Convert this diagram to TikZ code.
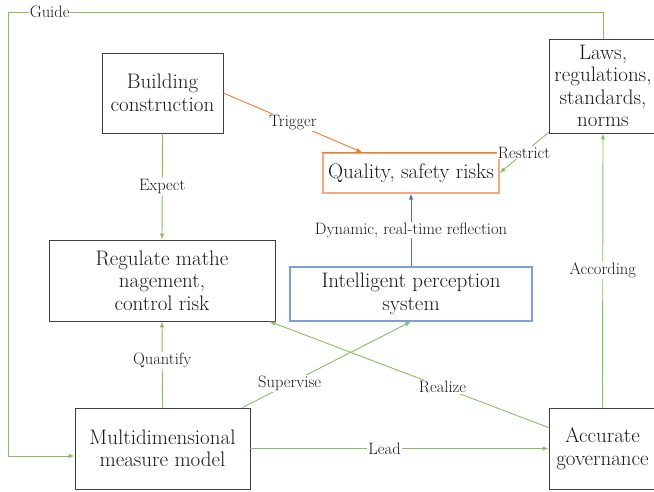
\documentclass[tikz,border=0pt]{standalone}
\usetikzlibrary{arrows.meta,calc}
\definecolor{gline}{RGB}{134,190,98}
\definecolor{oline}{RGB}{237,125,49}
\definecolor{olight}{RGB}{244,170,120}
\definecolor{bline}{RGB}{68,114,196}
\definecolor{blight}{RGB}{125,158,218}
\definecolor{boxgray}{RGB}{64,64,64}
\definecolor{txt}{RGB}{25,25,25}
\begin{document}
\begin{tikzpicture}[x=1pt,y=-1pt,
  box/.style={draw=boxgray,line width=0.9pt,inner sep=0pt,align=center,
    text=txt,font=\fontsize{21}{22.5}\selectfont},
  cbox/.style={box,line width=1.2pt},
  lbl/.style={fill=white,inner sep=1pt,text=txt,font=\fontsize{16.5}{18}\selectfont},
  conn/.style={line width=0.9pt,-{Latex[length=6pt,width=4.5pt]}},
  gconn/.style={conn,draw=gline,color=gline}]
\useasboundingbox (0,0) rectangle (654,491);

% boxes
\node[box,minimum width=121pt,minimum height=80pt] (build) at (162.5,93)
  {Building\\construction};
\node[box,minimum width=108pt,minimum height=94pt] (laws) at (603,86)
  {Laws,\\regulations,\\standards,\\norms};
\node[cbox,draw=olight,minimum width=176pt,minimum height=40pt] (qual) at (411,173)
  {Quality, safety risks};
\draw[oline,line width=1.1pt] (qual.north west) -- (qual.north east);
\node[box,minimum width=226pt,minimum height=81pt] (reg) at (162,280.5)
  {Regulate mathe\\nagement,\\control risk};
\node[cbox,draw=blight,minimum width=242pt,minimum height=54pt] (intel) at (411,294)
  {Intelligent perception\\system};
\node[box,minimum width=175pt,minimum height=81pt] (multi) at (162.5,448.5)
  {Multidimensional\\measure model};
\node[box,minimum width=107pt,minimum height=81pt] (acc) at (602.5,448.5)
  {Accurate\\governance};

% guide loop around the left side
\coordinate (g1) at (laws.north |- 0,12);
\coordinate (g2) at (8,12);
\coordinate (g3) at (8,456);
\draw[gconn] (laws.north) -- (g1) -- node[lbl,pos=0.93]{Guide} (g2) -- (g3)
  -- (multi.west |- g3);

% connectors
\draw[gconn] (build.south) -- node[lbl]{Expect} (reg.north);
\draw[conn,draw=oline,color=oline] (build.east)
  -- node[lbl,pos=0.5]{Trigger} ($(qual.north west)+(40,0)$);
\draw[gconn] ($(laws.south west)+(0,-1)$) -- node[lbl]{Restrict} (qual.east);
\draw[conn,draw=bline,color=bline] (intel.north)
  -- node[lbl]{Dynamic, real-time reflection} (qual.south);
\draw[gconn] (multi.north) -- node[lbl,pos=0.55]{Quantify} (reg.south);
\draw[gconn] ($(multi.north east)+(-8,0)$)
  -- node[lbl,pos=0.28]{Supervise} (intel.south);
\draw[gconn] ($(acc.north west)+(0,20)$)
  -- node[lbl,pos=0.38]{Realize} ($(reg.south east)+(-6,0)$);
\draw[gconn] (multi.east) -- node[lbl,pos=0.45]{Lead} (acc.west);
\draw[gconn] (acc.north) -- node[lbl]{According} (laws.south);
\end{tikzpicture}
\end{document}
